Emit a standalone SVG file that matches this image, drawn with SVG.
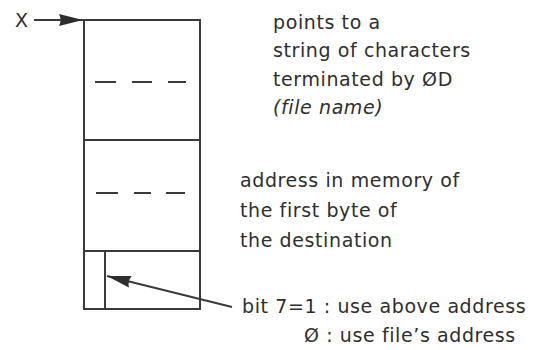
<svg xmlns="http://www.w3.org/2000/svg" width="542" height="350" viewBox="0 0 542 350">
<style>
.ln{stroke:#3a3a3a;stroke-width:2;fill:none}
.ds{stroke:#3a3a3a;stroke-width:2}
.t{font-family:"DejaVu Sans",sans-serif;font-size:19px;letter-spacing:0.6px;fill:#2e2e2e}
.i{font-style:italic}
</style>
<defs>
<marker id="ah" viewBox="0 0 24 14" refX="24" refY="7" markerWidth="24" markerHeight="14" markerUnits="userSpaceOnUse" orient="auto">
<path d="M0,1 L24,7 L0,13 Q3,7 0,1 Z" fill="#2e2e2e"/>
</marker>
</defs>
<g id="block">
<rect class="ln" x="84" y="20" width="116" height="289"/>
<line class="ln" x1="84" y1="140" x2="200" y2="140"/>
<line class="ln" x1="84" y1="251" x2="200" y2="251"/>
</g>
<g id="field-name">
<line class="ds" x1="95" y1="82" x2="116" y2="82"/>
<line class="ds" x1="132" y1="82" x2="152" y2="82"/>
<line class="ds" x1="168" y1="82" x2="186" y2="82"/>
</g>
<g id="field-address">
<line class="ds" x1="96" y1="193" x2="118" y2="193"/>
<line class="ds" x1="134" y1="193" x2="151" y2="193"/>
<line class="ds" x1="166" y1="193" x2="185" y2="193"/>
</g>
<g id="field-flag">
<line class="ln" x1="105" y1="251" x2="105" y2="309"/>
</g>
<g id="labels">
<text class="t" x="15" y="27">X</text>
<text class="t" x="273" y="29">points to a</text>
<text class="t" x="273" y="57">string of characters</text>
<text class="t" x="273" y="86">terminated by ØD</text>
<text class="t i" x="273" y="114">(file name)</text>
<text class="t" x="240" y="187">address in memory of</text>
<text class="t" x="240" y="217">the first byte of</text>
<text class="t" x="240" y="247">the destination</text>
<text class="t" x="242" y="313">bit 7=1 : use above address</text>
<text class="t" x="304" y="342">Ø : use file’s address</text>
</g>
<g id="connectors">
<line class="ln" x1="34" y1="20" x2="83" y2="20" marker-end="url(#ah)"/>
<line class="ln" x1="232" y1="307" x2="107" y2="276" marker-end="url(#ah)"/>
</g>
</svg>
